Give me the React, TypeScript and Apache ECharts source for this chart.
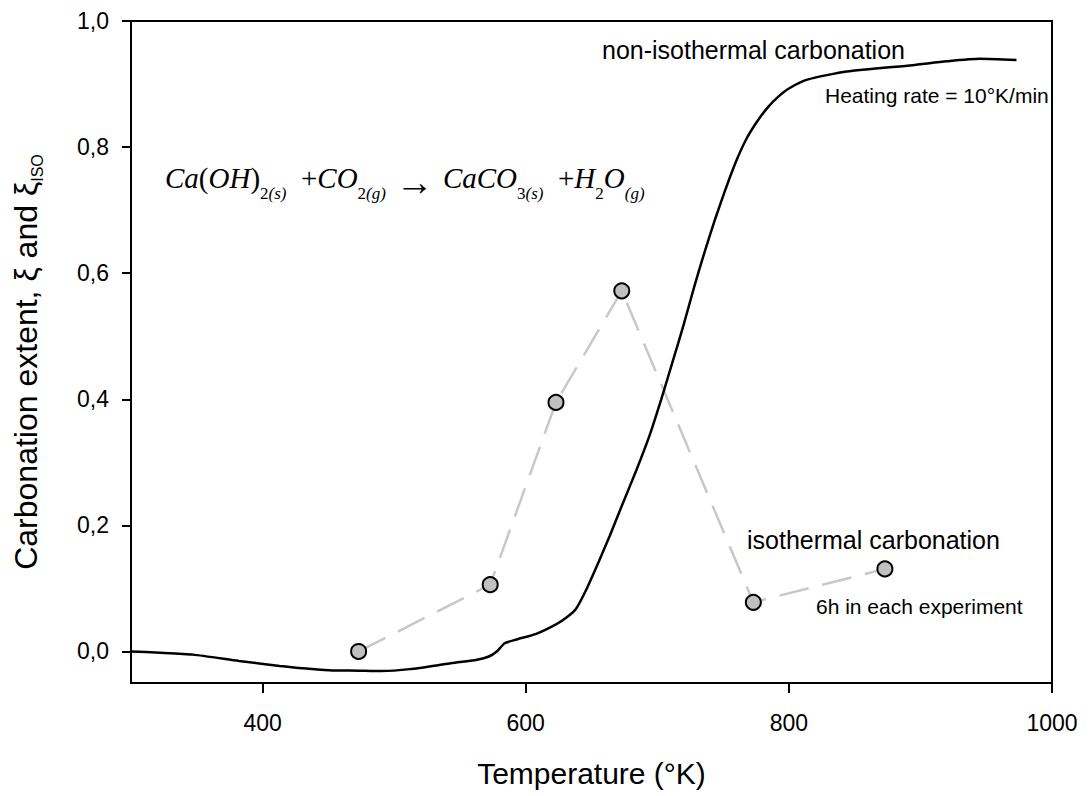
import React, { useEffect, useRef } from "react";
import * as echarts from "echarts";

// Non-isothermal carbonation curve (heating rate 10 K/min)
const nonIsoT = [300, 322, 347, 382, 413, 433, 453, 466, 490, 512, 542, 563, 572, 578, 584, 593, 608, 623, 631, 638, 646, 655, 664, 674, 684, 694, 703, 712, 720, 728, 736, 744, 752, 760, 768, 776, 784, 792, 800, 814, 844, 894, 920, 945, 973];
const nonIsoXi = [0.0, -0.002, -0.005, -0.015, -0.023, -0.027, -0.03, -0.03, -0.031, -0.028, -0.019, -0.013, -0.008, 0.0, 0.013, 0.019, 0.028, 0.043, 0.054, 0.067, 0.098, 0.14, 0.184, 0.236, 0.287, 0.342, 0.4, 0.462, 0.518, 0.578, 0.634, 0.686, 0.734, 0.778, 0.814, 0.841, 0.863, 0.88, 0.893, 0.907, 0.92, 0.93, 0.936, 0.94, 0.938];

// Isothermal carbonation (6 h each experiment)
const isoT = [473, 573, 623, 673, 773, 873];
const isoXi = [0.0, 0.106, 0.395, 0.572, 0.078, 0.131];

const xTicks = [400, 600, 800, 1000];
const yTicks = [0, 0.2, 0.4, 0.6, 0.8, 1.0];

const SANS = "'Liberation Sans', Arial, sans-serif";
const SERIF = "'Liberation Serif', 'Times New Roman', serif";

export default function App() {
  const ref = useRef<HTMLDivElement>(null);

  useEffect(() => {
    document.body.style.margin = "0";
    if (!ref.current) return;
    const chart = echarts.init(ref.current, undefined, { renderer: "svg" });

    const eqMain = { fontFamily: SERIF, fontSize: 29, fontStyle: "italic", lineHeight: 30, verticalAlign: "top", color: "#000" };
    const eqOp = { fontFamily: SERIF, fontSize: 29, lineHeight: 30, verticalAlign: "top", color: "#000" };
    const eqArrow = { fontFamily: SERIF, fontSize: 38, lineHeight: 30, verticalAlign: "top", color: "#000" };
    const eqSub = { fontFamily: SERIF, fontSize: 17, lineHeight: 17, verticalAlign: "top", padding: [22, 0, 0, 0], color: "#000" };
    const eqSubI = { ...eqSub, fontStyle: "italic" };

    const option: any = {
      animation: false,
      backgroundColor: "#fff",
      grid: {
        left: 131,
        top: 21,
        width: 921,
        height: 662,
        show: true,
        borderColor: "#000",
        borderWidth: 2,
        backgroundColor: "transparent",
      },
      xAxis: {
        type: "value",
        min: 300,
        max: 1000,
        name: "Temperature (°K)",
        nameLocation: "middle",
        nameGap: 75,
        nameTextStyle: { fontFamily: SANS, fontSize: 30, color: "#000" },
        axisLine: { show: true, onZero: false, lineStyle: { color: "#000", width: 2 } },
        axisTick: { show: true, length: 10, customValues: xTicks, lineStyle: { color: "#000", width: 2 } },
        axisLabel: {
          customValues: xTicks,
          fontFamily: SANS,
          fontSize: 23,
          color: "#000",
          margin: 28,
          formatter: (v: number) => String(v),
        },
        splitLine: { show: false },
      },
      yAxis: {
        type: "value",
        min: -0.05,
        max: 1.0,
        axisLine: { show: true, onZero: false, lineStyle: { color: "#000", width: 2 } },
        axisTick: { show: true, length: 9, customValues: yTicks, lineStyle: { color: "#000", width: 2 } },
        axisLabel: {
          customValues: yTicks,
          fontFamily: SANS,
          fontSize: 23,
          color: "#000",
          margin: 22,
          formatter: (v: number) => v.toFixed(1).replace(".", ","),
        },
        splitLine: { show: false },
      },
      series: [
        {
          type: "line",
          name: "isothermal",
          data: isoT.map((t, i) => [t, isoXi[i]]),
          symbol: "circle",
          symbolSize: 15,
          itemStyle: { color: "#c0c0c0", borderColor: "#000", borderWidth: 2 },
          lineStyle: { color: "#c8c8c8", width: 2.5, type: [30, 14] },
          z: 2,
        },
        {
          type: "line",
          name: "non-isothermal",
          data: nonIsoT.map((t, i) => [t, nonIsoXi[i]]),
          showSymbol: false,
          symbol: "none",
          smooth: 0.2,
          lineStyle: { color: "#000", width: 2.5 },
          z: 3,
        },
      ],
      graphic: [
        {
          type: "text",
          left: 165,
          top: 163,
          style: {
            text:
              "{m|Ca}{o|(}{m|OH}{o|)}{s|2}{si|(s)}{o|  +}{m|CO}{s|2}{si|(g)}{a| → }{m|CaCO}{s|3}{si|(s)}{o|  +}{m|H}{s|2}{m|O}{si|(g)}",
            rich: { m: eqMain, o: eqOp, a: eqArrow, s: eqSub, si: eqSubI },
          },
        },
        {
          type: "text",
          x: 28,
          y: 362,
          rotation: Math.PI / 2,
          style: {
            text: "{n|Carbonation extent, ξ and ξ}{sub|ISO}",
            align: "center",
            verticalAlign: "middle",
            rich: {
              n: { fontFamily: SANS, fontSize: 32, lineHeight: 36, verticalAlign: "top", color: "#000" },
              sub: { fontFamily: SANS, fontSize: 16, lineHeight: 16, verticalAlign: "top", padding: [19, 0, 0, 0], color: "#000" },
            },
          },
        },
        {
          type: "text",
          x: 602,
          y: 50,
          style: { text: "non-isothermal carbonation", fontFamily: SANS, fontSize: 25, fill: "#000", align: "left", verticalAlign: "middle" },
        },
        {
          type: "text",
          x: 825,
          y: 95,
          style: { text: "Heating rate = 10°K/min", fontFamily: SANS, fontSize: 21, fill: "#000", align: "left", verticalAlign: "middle" },
        },
        {
          type: "text",
          x: 747,
          y: 540,
          style: { text: "isothermal carbonation", fontFamily: SANS, fontSize: 25, fill: "#000", align: "left", verticalAlign: "middle" },
        },
        {
          type: "text",
          x: 816,
          y: 606,
          style: { text: "6h in each experiment", fontFamily: SANS, fontSize: 21, fill: "#000", align: "left", verticalAlign: "middle" },
        },
      ],
    };

    chart.setOption(option);
    return () => chart.dispose();
  }, []);

  return <div ref={ref} style={{ width: 1090, height: 796 }} />;
}
